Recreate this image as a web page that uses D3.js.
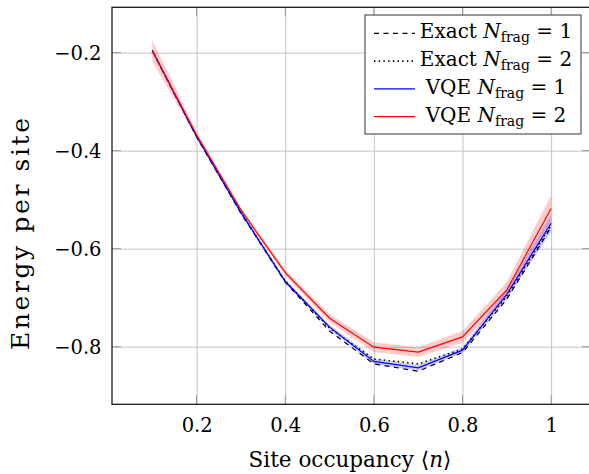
<!DOCTYPE html>
<html>
<head>
<meta charset="utf-8">
<script src="https://cdn.jsdelivr.net/npm/d3@7"></script>
<style>
  body { margin: 0; background: #fff; }
</style>
</head>
<body>
<div id="chart"></div>
<script>

// site occupancy <n> on the x axis
const occupancy = [0.1, 0.2, 0.3, 0.4, 0.5, 0.6, 0.7, 0.8, 0.9, 1.0];

// energy per site for each method
const exact1 = [-0.196, -0.372, -0.528, -0.668, -0.768, -0.835, -0.850, -0.812, -0.703, -0.556];
const exact2 = [-0.196, -0.371, -0.526, -0.666, -0.762, -0.825, -0.835, -0.805, -0.697, -0.552];
const vqe1   = [-0.196, -0.371, -0.526, -0.667, -0.760, -0.830, -0.843, -0.807, -0.693, -0.548];
const vqe2   = [-0.196, -0.368, -0.521, -0.649, -0.742, -0.801, -0.811, -0.780, -0.684, -0.518];

// spread of the VQE runs (half width of the shaded band)
const vqe1Err = [0.003, 0.003, 0.003, 0.004, 0.005, 0.006, 0.006, 0.006, 0.010, 0.018];
const vqe2Err = [0.022, 0.006, 0.005, 0.006, 0.008, 0.010, 0.010, 0.012, 0.016, 0.027];

const xTicks = [0.2, 0.4, 0.6, 0.8, 1];
const yTicks = [-0.8, -0.6, -0.4, -0.2];

const legendItems = [
    {label: "Exact", n: 1, color: "#000", dash: "5,4.5"},
    {label: "Exact", n: 2, color: "#000", dash: "1.4,3.3"},
    {label: "VQE",   n: 1, color: "#0000ff", dash: null},
    {label: "VQE",   n: 2, color: "#ff0000", dash: null}
];

//////////////////////////////////////////////////////
// SETUP
//////////////////////////////////////////////////////

const width = 589;
const height = 474;

const pLeft = 112, pRight = 591, pTop = 7.3, pBottom = 404.3;
const tickFont = 19.5;
const legendFont = 20;
const serif = "'DejaVu Serif', serif";

const svg = d3.select("#chart")
    .append("svg")
    .attr("width", width)
    .attr("height", height)
    .style("font-family", serif);

const x = d3.scaleLinear()
    .domain([0.009, 1.09])
    .range([pLeft, pRight]);

const y = d3.scaleLinear()
    .domain([-0.9175, -0.1075])
    .range([pBottom, pTop]);

//////////////////////////////////////////////////////
// GRID + TICK LABELS
//////////////////////////////////////////////////////

const gx = svg.append("g")
    .attr("transform", `translate(0,${pBottom})`)
    .call(d3.axisBottom(x)
        .tickValues(xTicks)
        .tickSize(-(pBottom - pTop))
        .tickFormat(d3.format("~g")));

gx.attr("font-family", null).attr("font-size", null);
gx.select(".domain").remove();
gx.selectAll("line").attr("stroke", "#c4c4c4");
gx.selectAll("text")
    .attr("y", 27.5)
    .attr("dy", 0)
    .attr("fill", "#000")
    .style("font-size", tickFont + "px");

const gy = svg.append("g")
    .attr("transform", `translate(${pLeft},0)`)
    .call(d3.axisLeft(y)
        .tickValues(yTicks)
        .tickSize(-(pRight - pLeft))
        .tickFormat(d3.format(".1f")));

gy.attr("font-family", null).attr("font-size", null);
gy.select(".domain").remove();
gy.selectAll("line").attr("stroke", "#c4c4c4");
gy.selectAll("text")
    .attr("x", -10.5)
    .attr("dy", "0.35em")
    .attr("fill", "#000")
    .style("font-size", tickFont + "px");

// short inner tick marks on all four sides
const tickLen = 9;
const marks = svg.append("g").attr("stroke", "#999").attr("stroke-width", 1);

xTicks.forEach(t => {
    marks.append("line").attr("x1", x(t)).attr("x2", x(t)).attr("y1", pBottom).attr("y2", pBottom - tickLen);
    marks.append("line").attr("x1", x(t)).attr("x2", x(t)).attr("y1", pTop).attr("y2", pTop + tickLen);
});
yTicks.forEach(t => {
    marks.append("line").attr("x1", pLeft).attr("x2", pLeft + tickLen).attr("y1", y(t)).attr("y2", y(t));
    marks.append("line").attr("x1", pRight - tickLen).attr("x2", pRight).attr("y1", y(t)).attr("y2", y(t));
});

//////////////////////////////////////////////////////
// BANDS + LINES
//////////////////////////////////////////////////////

const plot = svg.append("g");

const band = d3.area()
    .x(d => x(d.x))
    .y0(d => y(d.v - d.e))
    .y1(d => y(d.v + d.e));

const line = d3.line()
    .x(d => x(d.x))
    .y(d => y(d.v));

const rows = (vals, errs) => occupancy.map((o, i) => ({x: o, v: vals[i], e: errs ? errs[i] : 0}));

plot.append("path")
    .datum(rows(vqe2, vqe2Err))
    .attr("d", band)
    .attr("fill", "#ff0000")
    .attr("fill-opacity", 0.2);

plot.append("path")
    .datum(rows(vqe1, vqe1Err))
    .attr("d", band)
    .attr("fill", "#0000ff")
    .attr("fill-opacity", 0.2);

const series = [exact1, exact2, vqe1, vqe2];

series.forEach((vals, i) => {
    plot.append("path")
        .datum(rows(vals))
        .attr("d", line)
        .attr("fill", "none")
        .attr("stroke", legendItems[i].color)
        .attr("stroke-width", i === 1 ? 1.6 : 1.2)
        .attr("stroke-dasharray", legendItems[i].dash);
});

// frame
svg.append("rect")
    .attr("x", pLeft)
    .attr("y", pTop)
    .attr("width", pRight - pLeft)
    .attr("height", pBottom - pTop)
    .attr("fill", "none")
    .attr("stroke", "#1a1a1a")
    .attr("stroke-width", 1.3);

//////////////////////////////////////////////////////
// LEGEND
//////////////////////////////////////////////////////

const legend = svg.append("g");

legend.append("rect")
    .attr("x", 365)
    .attr("y", 15)
    .attr("width", 216)
    .attr("height", 119)
    .attr("fill", "#fff")
    .attr("stroke", "#333")
    .attr("stroke-width", 1);

legendItems.forEach((d, i) => {
    const ly = 33.3 + i * 27.8;

    legend.append("line")
        .attr("x1", 374)
        .attr("x2", 415)
        .attr("y1", ly)
        .attr("y2", ly)
        .attr("stroke", d.color)
        .attr("stroke-width", i === 1 ? 1.6 : 1.2)
        .attr("stroke-dasharray", d.dash);

    const t = legend.append("text")
        .attr("x", 496)
        .attr("y", ly + 5)
        .attr("text-anchor", "middle")
        .style("font-size", legendFont + "px");

    t.append("tspan").text(d.label + " ");
    t.append("tspan").style("font-style", "italic").text("N");
    t.append("tspan").attr("dy", 4).style("font-size", (legendFont * 0.7) + "px").text("frag");
    t.append("tspan").attr("dy", -4).text(" = " + d.n);
});

//////////////////////////////////////////////////////
// AXIS LABELS
//////////////////////////////////////////////////////

const xl = svg.append("text")
    .attr("x", 350)
    .attr("y", 467)
    .attr("text-anchor", "middle")
    .style("font-size", "21.5px");

xl.append("tspan").text("Site occupancy \u27E8");
xl.append("tspan").style("font-style", "italic").text("n");
xl.append("tspan").text("\u27E9");

svg.append("text")
    .attr("transform", "translate(28.5,234) rotate(-90)")
    .attr("text-anchor", "middle")
    .attr("textLength", 232)
    .attr("lengthAdjust", "spacing")
    .style("font-size", "25px")
    .text("Energy per site");

</script>
</body>
</html>
